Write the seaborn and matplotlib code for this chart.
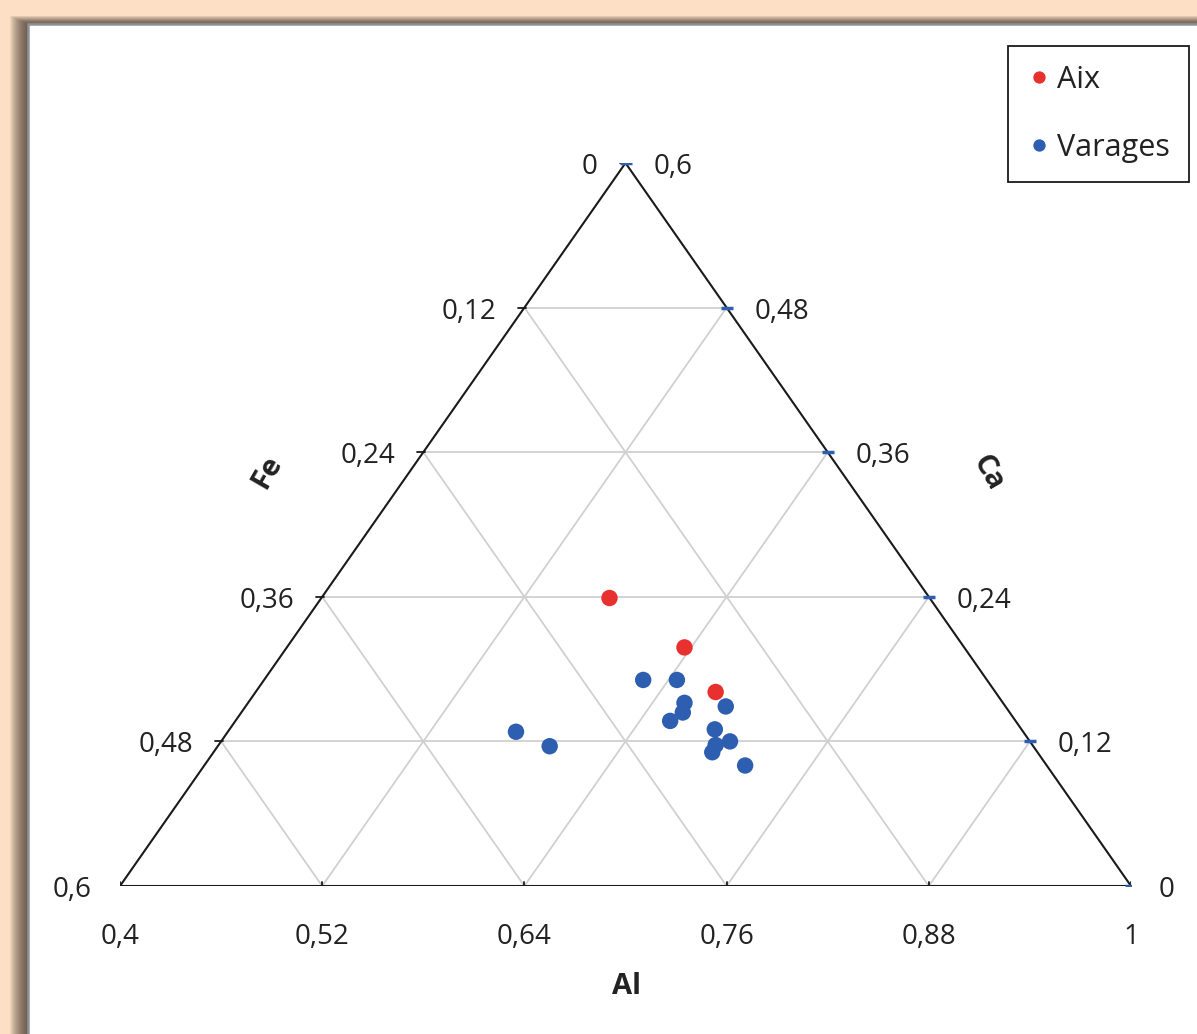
import numpy as np
import pandas as pd
import matplotlib.pyplot as plt
import seaborn as sns
from matplotlib.patches import Rectangle

# Compositions (Al + Fe + Ca = 1)
al_aix = [0.571, 0.636, 0.673]
fe_aix = [0.190, 0.166, 0.166]
ca_aix = [0.239, 0.198, 0.161]

al_var = [0.625, 0.645, 0.659, 0.662, 0.658, 0.685, 0.688, 0.695, 0.696, 0.702, 0.721, 0.571, 0.597]
fe_var = [0.204, 0.184, 0.189, 0.194, 0.204, 0.167, 0.182, 0.188, 0.193, 0.178, 0.179, 0.301, 0.287]
ca_var = [0.171, 0.171, 0.152, 0.144, 0.137, 0.149, 0.130, 0.117, 0.111, 0.120, 0.100, 0.128, 0.116]

al_ticks = [0.4, 0.52, 0.64, 0.76, 0.88, 1.0]
fe_ticks = [0.0, 0.12, 0.24, 0.36, 0.48, 0.6]
ca_ticks = [0.6, 0.48, 0.36, 0.24, 0.12, 0.0]
grid_vals = [0.12, 0.24, 0.36, 0.48]

W, H = 1197, 1034


def tern(al, fe, ca):
    """Sous-triangle Al 0.4-1, Fe 0-0.6, Ca 0-0.6 -> coordonnees x, y (0-1)."""
    al = np.asarray(al, dtype=float)
    ca = np.asarray(ca, dtype=float)
    x = (al - 0.4) / 0.6 + 0.5 * ca / 0.6
    y = ca / 0.6
    return x, y


def fmt(v):
    return ('%g' % v).replace('.', ',')


sns.set_theme(style='white')
plt.rcParams['font.family'] = ['Open Sans', 'DejaVu Sans']

fig = plt.figure(figsize=(W / 100, H / 100), dpi=100)
fig.patch.set_facecolor('#FCDFC5')

# ombre + panneau blanc
for d in range(1, 19):
    fig.patches.append(Rectangle(((28 - d) / W, -0.1), 1.2, 1 - (24 - d * 0.45) / H + 0.1,
                                 transform=fig.transFigure, facecolor='#3d3028',
                                 edgecolor='none', alpha=0.065, zorder=-20))
fig.patches.append(Rectangle((28 / W, -0.1), 1.2, 1 - 24 / H + 0.1, transform=fig.transFigure,
                             facecolor='white', edgecolor='#8E9297', lw=1.8, zorder=-10))

ax = fig.add_axes([120 / W, (H - 886) / H, (1131 - 120) / W, (886 - 163) / H])
ax.set_xlim(0, 1)
ax.set_ylim(0, 1)
ax.axis('off')

# grille
for v in grid_vals:
    # Ca constant
    x, y = tern([0.4, 1 - v], [0.6 - v, 0], [v, v])
    ax.plot(x, y, color='#D0D0D0', lw=1.3, zorder=1)
    # Al constant
    a = 0.4 + v
    x, y = tern([a, a], [1 - a, 0], [0, 1 - a])
    ax.plot(x, y, color='#D0D0D0', lw=1.3, zorder=1)
    # Fe constant
    x, y = tern([1 - v, 0.4], [v, v], [0, 0.6 - v])
    ax.plot(x, y, color='#D0D0D0', lw=1.3, zorder=1)

# bords du triangle
x, y = tern([0.4, 1.0, 0.4, 0.4], [0.6, 0.0, 0.0, 0.6], [0.0, 0.0, 0.6, 0.0])
ax.plot(x, y, color='#1a1a1a', lw=1.5, zorder=2)

# graduations et etiquettes
for a in al_ticks:
    x, y = tern([a], [1 - a], [0])
    ax.plot([x[0], x[0]], [y[0] + 4 / 723, y[0] - 11 / 723], color='#1a1a1a', lw=1.3, zorder=3)
    ax.annotate(fmt(a), xy=(x[0], y[0]), xytext=(0, -51), textcoords='offset pixels',
                ha='center', va='center', fontsize=20, color='#222222')

for f in fe_ticks:
    x, y = tern([0.4], [f], [0.6 - f])
    ax.plot([x[0] - 6 / 1011, x[0] + 2 / 1011], [y[0], y[0]], color='#1a1a1a', lw=1.3, zorder=3)
    ax.annotate(fmt(f), xy=(x[0], y[0]), xytext=(-28, -4), textcoords='offset pixels',
                ha='right', va='center', fontsize=20, color='#222222')

for c in ca_ticks:
    x, y = tern([1 - c], [0], [c])
    ax.plot(x, y, marker='_', color='#2E5EB0', ms=9, mew=2.5, zorder=3)
    ax.annotate(fmt(c), xy=(x[0], y[0]), xytext=(28, -4), textcoords='offset pixels',
                ha='left', va='center', fontsize=20, color='#222222')

# titres des axes
x, y = tern([0.7], [0.3], [0.0])
ax.annotate('Al', xy=(x[0], y[0]), xytext=(1, -100), textcoords='offset pixels',
            ha='center', va='center', fontsize=21, fontweight='bold', color='#222222')
x, y = tern([0.4], [0.3], [0.3])
ax.annotate('Fe', xy=(x[0], y[0]), xytext=(-106, 53), textcoords='offset pixels',
            ha='center', va='center', fontsize=21, fontweight='bold', rotation=60, color='#222222')
x, y = tern([0.7], [0.0], [0.3])
ax.annotate('Ca', xy=(x[0], y[0]), xytext=(110, 52), textcoords='offset pixels',
            ha='center', va='center', fontsize=21, fontweight='bold', rotation=-60, color='#222222')

# points
xa, ya = tern(al_aix, fe_aix, ca_aix)
xv, yv = tern(al_var, fe_var, ca_var)
df = pd.DataFrame({
    'x': np.concatenate([xa, xv]),
    'y': np.concatenate([ya, yv]),
    'Site': ['Aix'] * len(xa) + ['Varages'] * len(xv),
})
sns.scatterplot(data=df, x='x', y='y', hue='Site', palette={'Aix': '#E8302F', 'Varages': '#2E5EB0'},
                s=140, edgecolor='none', ax=ax, zorder=5, clip_on=False)

sns.move_legend(ax, 'upper right', bbox_to_anchor=(1189 / W, 1 - 46 / H), bbox_transform=fig.transFigure,
                title=None, frameon=True, fancybox=False, framealpha=1, edgecolor='#1a1a1a',
                fontsize=22, markerscale=0.75, handlelength=0.8, handletextpad=0.2,
                labelspacing=1.25, borderpad=0.62, borderaxespad=0)
leg = ax.get_legend()
leg.get_frame().set_linewidth(1.3)
for t in leg.get_texts():
    t.set_color('#222222')

fig.savefig('out.png', dpi=100, facecolor=fig.get_facecolor())
